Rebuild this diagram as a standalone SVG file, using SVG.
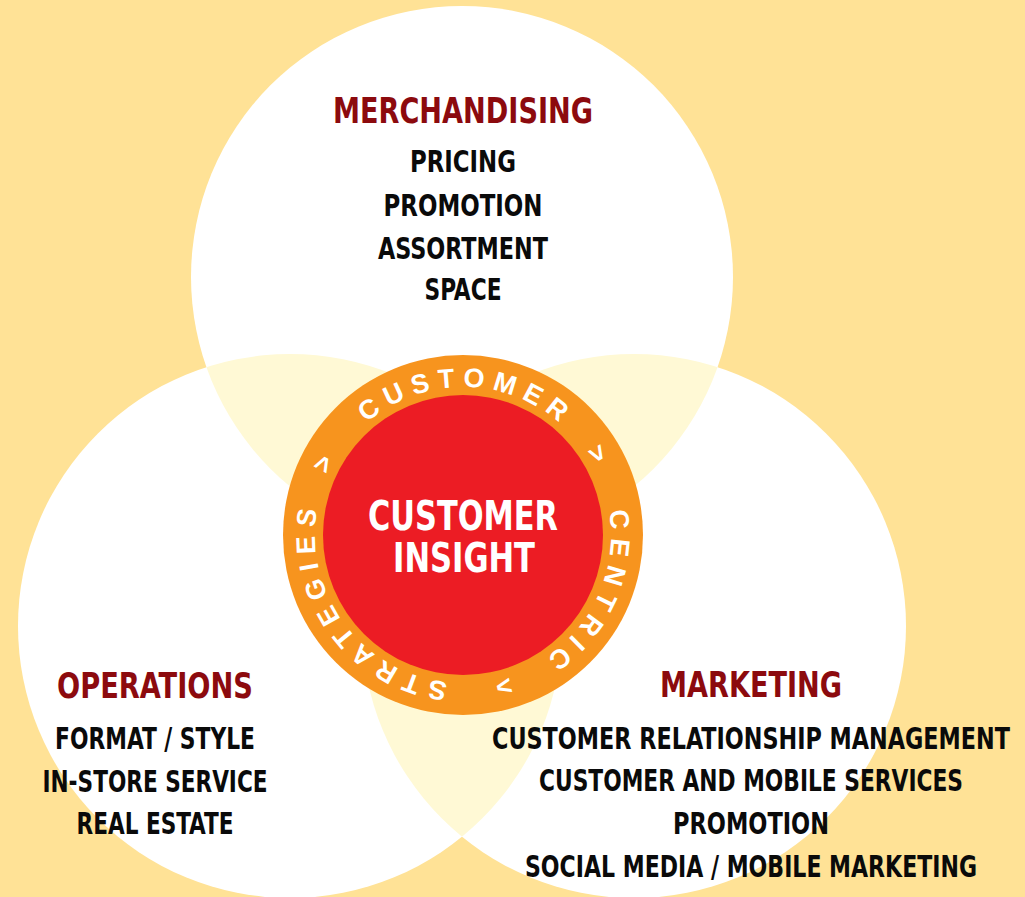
<svg xmlns="http://www.w3.org/2000/svg" width="1025" height="897" viewBox="0 0 1025 897">
  <style>
    .bg { fill: #FFE296; }
    .disc { fill: #FFFFFF; }
    .lens { fill: #FFF9D5; }
    .title { font-family: "Liberation Sans Narrow", "DejaVu Sans Condensed", "Liberation Sans", sans-serif; font-weight: bold; font-size: 35px; fill: #8C0A0E; text-anchor: middle; }
    .item { font-family: "Liberation Sans Narrow", "DejaVu Sans Condensed", "Liberation Sans", sans-serif; font-weight: bold; font-size: 30px; fill: #0A0A0A; text-anchor: middle; }
    .core { font-family: "Liberation Sans Narrow", "DejaVu Sans Condensed", "Liberation Sans", sans-serif; font-weight: bold; font-size: 40px; fill: #FFFFFF; text-anchor: middle; }
    .ring { font-family: "Liberation Sans", "DejaVu Sans", sans-serif; font-weight: bold; font-size: 27px; fill: #FFFFFF; letter-spacing: 8px; text-anchor: middle; }
  </style>
  <defs>
    <clipPath id="clipTop"><circle cx="462" cy="277" r="271"/></clipPath>
    <clipPath id="clipLeft"><circle cx="290" cy="626" r="272"/></clipPath>
    <clipPath id="clipRight"><circle cx="634" cy="626" r="272"/></clipPath>
    <!-- baseline circle for the ring lettering, starting at the bottom and running clockwise -->
    <path id="ringPath" d="M 463,683 A 148 148 0 1 1 463,387 A 148 148 0 1 1 463,683"/>
  </defs>

  <rect class="bg" x="0" y="0" width="1025" height="897"/>

  <!-- three overlapping discs -->
  <g id="merchandising-disc">
    <circle class="disc" cx="462" cy="277" r="271"/>
  </g>
  <g id="operations-disc">
    <circle class="disc" cx="290" cy="626" r="272"/>
  </g>
  <g id="marketing-disc">
    <circle class="disc" cx="634" cy="626" r="272"/>
  </g>

  <!-- pairwise overlaps -->
  <g id="overlaps">
    <circle class="lens" cx="290" cy="626" r="272" clip-path="url(#clipTop)"/>
    <circle class="lens" cx="634" cy="626" r="272" clip-path="url(#clipTop)"/>
    <circle class="lens" cx="634" cy="626" r="272" clip-path="url(#clipLeft)"/>
  </g>

  <!-- labels inside the discs -->
  <g id="merchandising">
    <text class="title" x="463" y="123" textLength="260" lengthAdjust="spacingAndGlyphs">MERCHANDISING</text>
    <text class="item" x="463" y="172" textLength="106" lengthAdjust="spacingAndGlyphs">PRICING</text>
    <text class="item" x="463" y="216" textLength="159" lengthAdjust="spacingAndGlyphs">PROMOTION</text>
    <text class="item" x="463" y="259" textLength="170" lengthAdjust="spacingAndGlyphs">ASSORTMENT</text>
    <text class="item" x="463" y="300" textLength="77" lengthAdjust="spacingAndGlyphs">SPACE</text>
  </g>

  <g id="operations">
    <text class="title" x="155" y="698" textLength="196" lengthAdjust="spacingAndGlyphs">OPERATIONS</text>
    <text class="item" x="155" y="749" textLength="200" lengthAdjust="spacingAndGlyphs">FORMAT / STYLE</text>
    <text class="item" x="155" y="792" textLength="225" lengthAdjust="spacingAndGlyphs">IN-STORE SERVICE</text>
    <text class="item" x="155" y="834" textLength="157" lengthAdjust="spacingAndGlyphs">REAL ESTATE</text>
  </g>

  <g id="marketing">
    <text class="title" x="751" y="697" textLength="182" lengthAdjust="spacingAndGlyphs">MARKETING</text>
    <text class="item" x="751" y="749" textLength="518" lengthAdjust="spacingAndGlyphs">CUSTOMER RELATIONSHIP MANAGEMENT</text>
    <text class="item" x="751" y="791" textLength="424" lengthAdjust="spacingAndGlyphs">CUSTOMER AND MOBILE SERVICES</text>
    <text class="item" x="751" y="834" textLength="156" lengthAdjust="spacingAndGlyphs">PROMOTION</text>
    <text class="item" x="751" y="877" textLength="452" lengthAdjust="spacingAndGlyphs">SOCIAL MEDIA / MOBILE MARKETING</text>
  </g>

  <!-- central hub: orange ring with lettering around a red core -->
  <g id="customer-insight">
    <circle cx="463" cy="535" r="180" fill="#F7941E"/>
    <circle cx="463" cy="535" r="140" fill="#EC1C24"/>
    <text class="ring"><textPath href="#ringPath" startOffset="50.4%">CUSTOMER</textPath></text>
    <text class="ring"><textPath href="#ringPath" startOffset="66.75%">&gt;</textPath></text>
    <text class="ring"><textPath href="#ringPath" startOffset="81.8%">CENTRIC</textPath></text>
    <text class="ring"><textPath href="#ringPath" startOffset="96.2%">&gt;</textPath></text>
    <text class="ring"><textPath href="#ringPath" startOffset="15.1%">STRATEGIES</textPath></text>
    <text class="ring"><textPath href="#ringPath" startOffset="32.9%">&gt;</textPath></text>
    <text class="core" x="463" y="530" textLength="190" lengthAdjust="spacingAndGlyphs">CUSTOMER</text>
    <text class="core" x="464" y="572" textLength="142" lengthAdjust="spacingAndGlyphs">INSIGHT</text>
  </g>
</svg>
